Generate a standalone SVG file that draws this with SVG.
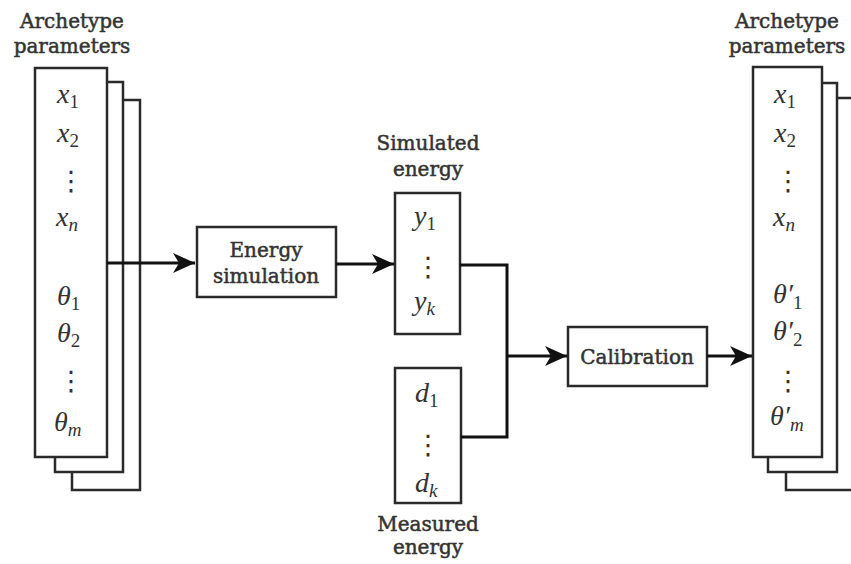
<svg xmlns="http://www.w3.org/2000/svg" width="851" height="564" viewBox="0 0 851 564">
<style>
.box{fill:#fff;stroke:#2a2a2a;stroke-width:2.5}
.lbl{font-family:"DejaVu Serif","Liberation Serif",serif;font-size:20px;fill:#333;stroke:#333;stroke-width:0.5;text-anchor:middle}
.m{font-family:"Liberation Serif",serif;font-style:italic;font-size:28px;fill:#333}
.s{font-style:normal;font-size:19px}
.si{font-style:italic;font-size:19px}
.dots{font-family:"DejaVu Sans",sans-serif;font-size:27px;fill:#333;text-anchor:middle}
.con{fill:none;stroke:#111;stroke-width:3}
</style>
<defs>
<marker id="arr" markerUnits="userSpaceOnUse" markerWidth="24" markerHeight="22" refX="22" refY="11" orient="auto">
<path d="M0,1 L22,11 L0,21 L6,11 Z" fill="#111"/>
</marker>
</defs>

<g id="input-params">
<text class="lbl" x="72" y="28">Archetype</text>
<text class="lbl" x="72" y="53">parameters</text>
<rect class="box" x="72" y="100" width="68" height="390"/>
<rect class="box" x="55" y="82" width="68" height="390"/>
<rect class="box" x="35" y="68" width="72" height="389"/>
<text class="m" x="57" y="103">x<tspan class="s" dy="5">1</tspan></text>
<text class="m" x="57" y="142">x<tspan class="s" dy="5">2</tspan></text>
<text class="dots" x="71" y="190">⋮</text>
<text class="m" x="56" y="226">x<tspan class="si" dy="5">n</tspan></text>
<text class="m" x="57" y="305">θ<tspan class="s" dy="5">1</tspan></text>
<text class="m" x="57" y="342">θ<tspan class="s" dy="5">2</tspan></text>
<text class="dots" x="71" y="390">⋮</text>
<text class="m" x="54" y="431">θ<tspan class="si" dy="5">m</tspan></text>
</g>

<g id="energy-simulation">
<rect class="box" x="197" y="227" width="139" height="70"/>
<text class="lbl" x="266" y="257">Energy</text>
<text class="lbl" x="266" y="283">simulation</text>
</g>

<g id="simulated-energy">
<text class="lbl" x="428" y="150">Simulated</text>
<text class="lbl" x="428" y="176">energy</text>
<rect class="box" x="395" y="193" width="65" height="141"/>
<text class="m" x="414" y="225">y<tspan class="s" dy="5">1</tspan></text>
<text class="dots" x="428" y="276">⋮</text>
<text class="m" x="414" y="310">y<tspan class="si" dy="5">k</tspan></text>
</g>

<g id="measured-energy">
<rect class="box" x="395" y="368" width="66" height="135"/>
<text class="m" x="415" y="402">d<tspan class="s" dy="5">1</tspan></text>
<text class="dots" x="428" y="454">⋮</text>
<text class="m" x="415" y="492">d<tspan class="si" dy="5">k</tspan></text>
<text class="lbl" x="428" y="531">Measured</text>
<text class="lbl" x="428" y="554">energy</text>
</g>

<g id="calibration">
<rect class="box" x="568" y="327" width="139" height="59"/>
<text class="lbl" x="637" y="364">Calibration</text>
</g>

<g id="output-params">
<text class="lbl" x="787" y="28">Archetype</text>
<text class="lbl" x="787" y="53">parameters</text>
<rect class="box" x="786" y="98" width="80" height="392"/>
<rect class="box" x="768" y="83" width="69" height="389"/>
<rect class="box" x="753" y="67" width="69" height="390"/>
<text class="m" x="774" y="103">x<tspan class="s" dy="5">1</tspan></text>
<text class="m" x="774" y="142">x<tspan class="s" dy="5">2</tspan></text>
<text class="dots" x="788" y="190">⋮</text>
<text class="m" x="773" y="226">x<tspan class="si" dy="5">n</tspan></text>
<text class="m" x="773" y="303">θ′<tspan class="s" dy="6">1</tspan></text>
<text class="m" x="773" y="340">θ′<tspan class="s" dy="6">2</tspan></text>
<text class="dots" x="788" y="390">⋮</text>
<text class="m" x="770" y="425">θ′<tspan class="si" dy="6">m</tspan></text>
</g>

<g id="connectors">
<line class="con" x1="107" y1="263" x2="195" y2="263" marker-end="url(#arr)"/>
<line class="con" x1="336" y1="264" x2="394" y2="264" marker-end="url(#arr)"/>
<polyline class="con" points="460,265 507,265 507,437 461,437"/>
<line class="con" x1="507" y1="356" x2="567" y2="356" marker-end="url(#arr)"/>
<line class="con" x1="707" y1="356" x2="752" y2="356" marker-end="url(#arr)"/>
</g>
</svg>
